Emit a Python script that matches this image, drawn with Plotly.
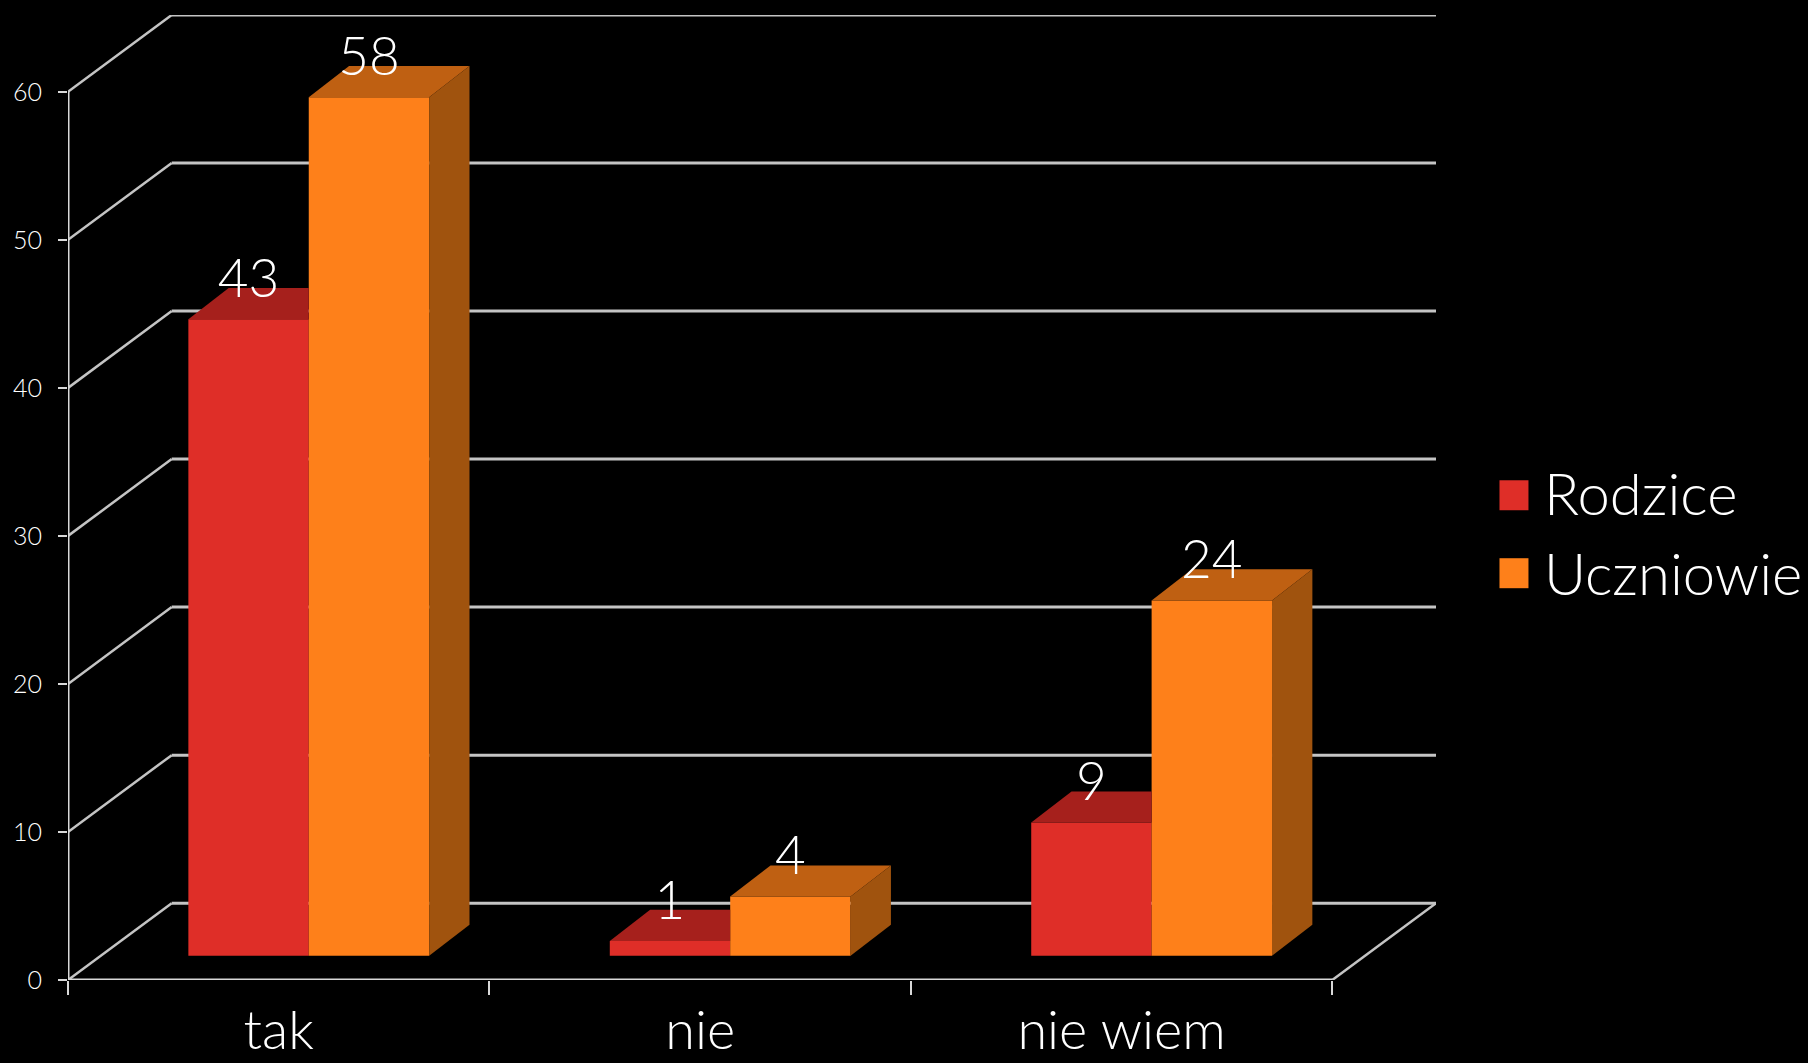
import plotly.graph_objects as go

categories = ["tak", "nie", "nie wiem"]
series_names = ["Rodzice", "Uczniowie"]
rodzice = [43, 1, 9]
uczniowie = [58, 4, 24]
y_ticks = [0, 10, 20, 30, 40, 50, 60]

RED, RED_TOP = "#DF2E28", "#A6201C"
ORANGE, ORANGE_TOP, ORANGE_SIDE = "#FE801A", "#BF6012", "#A0530E"
GRID = "#C4C4C4"
FONT = "Lato"
WEIGHT = 300

# pseudo-3D geometry in axis units
WALL_DX, WALL_DY = 0.2461, 5.19
BAR_SHIFT_X, BAR_BASE = 0.0713, 1.64
BAR_DX, BAR_DY = 0.0957, 2.1
BAR_W = 0.2857
N = len(categories)

fig = go.Figure()


def face(xs, ys, color):
    fig.add_trace(go.Scatter(x=xs, y=ys, mode="lines", fill="toself", fillcolor=color,
                             line=dict(width=0), hoverinfo="skip", showlegend=False))


left_x = [i + 0.5 + BAR_SHIFT_X - BAR_W for i in range(N)]
mid_x = [i + 0.5 + BAR_SHIFT_X for i in range(N)]
right_x = [i + 0.5 + BAR_SHIFT_X + BAR_W for i in range(N)]

# front faces: real bars
fig.add_trace(go.Bar(x=[m - BAR_W / 2 for m in mid_x], y=rodzice, base=BAR_BASE, width=BAR_W,
                     name=series_names[0], marker=dict(color=RED, line=dict(width=0)), showlegend=False))
fig.add_trace(go.Bar(x=[m + BAR_W / 2 for m in mid_x], y=uczniowie, base=BAR_BASE, width=BAR_W,
                     name=series_names[1], marker=dict(color=ORANGE, line=dict(width=0)), showlegend=False))

# top and side faces
for i in range(N):
    t = rodzice[i] + BAR_BASE
    face([left_x[i], left_x[i] + BAR_DX, mid_x[i], mid_x[i], left_x[i]],
         [t, t + BAR_DY, t + BAR_DY, t, t], RED_TOP)
    t = uczniowie[i] + BAR_BASE
    face([mid_x[i], mid_x[i] + BAR_DX, right_x[i] + BAR_DX, right_x[i], mid_x[i]],
         [t, t + BAR_DY, t + BAR_DY, t, t], ORANGE_TOP)
    face([right_x[i], right_x[i] + BAR_DX, right_x[i] + BAR_DX, right_x[i], right_x[i]],
         [t, t + BAR_DY, BAR_BASE + BAR_DY, BAR_BASE, t], ORANGE_SIDE)

# value labels
fig.add_trace(go.Scatter(
    x=[m - BAR_W / 2 for m in mid_x] + [m + BAR_W / 2 for m in mid_x],
    y=[v + BAR_BASE + 2.4 for v in rodzice + uczniowie],
    text=[str(v) for v in rodzice + uczniowie],
    mode="text", textposition="middle center", cliponaxis=False,
    textfont=dict(family=FONT, size=53, color="white", weight=WEIGHT),
    hoverinfo="skip", showlegend=False))

# walls drawn below the traces
shapes = []
for t in y_ticks:
    shapes.append(dict(type="line", xref="x", yref="y", layer="below", x0=0, y0=t, x1=WALL_DX, y1=t + WALL_DY,
                       line=dict(color=GRID, width=2.5)))
    shapes.append(dict(type="line", xref="x", yref="y", layer="below", x0=WALL_DX, y0=t + WALL_DY,
                       x1=N + WALL_DX, y1=t + WALL_DY, line=dict(color=GRID, width=3)))
shapes.append(dict(type="line", xref="x", yref="y", layer="below", x0=N, y0=0, x1=N + WALL_DX, y1=WALL_DY,
                   line=dict(color=GRID, width=2.5)))
shapes.append(dict(type="line", xref="x", yref="y", layer="below", x0=0, y0=0, x1=N, y1=0,
                   line=dict(color="#D8D8D8", width=3)))
shapes.append(dict(type="line", xref="x", yref="y", layer="below", x0=0, y0=0, x1=0, y1=y_ticks[-1],
                   line=dict(color="#D8D8D8", width=3)))

W, H = 1808, 1063
# legend swatches and labels
annotations = []
for name, color, cy, ty in zip(series_names, [RED, ORANGE], [495, 573], [492, 572]):
    shapes.append(dict(type="rect", xref="paper", yref="paper",
                       x0=(1500 - 68) / (1436.5 - 68), x1=(1529 - 68) / (1436.5 - 68),
                       y0=(980 - cy - 15) / (980 - 14.5), y1=(980 - cy + 15) / (980 - 14.5),
                       fillcolor=color, line=dict(width=0)))
    annotations.append(dict(xref="paper", yref="paper", x=(1543 - 68) / (1436.5 - 68),
                            y=(980 - ty) / (980 - 14.5), text=name, showarrow=False,
                            xanchor="left", yanchor="middle",
                            font=dict(family=FONT, size=58, color="white", weight=WEIGHT)))

fig.update_layout(
    width=W, height=H, autosize=False,
    margin=dict(l=68, r=W - 1436.5, t=14.5, b=H - 980, pad=0, autoexpand=False),
    paper_bgcolor="black", plot_bgcolor="black",
    barmode="overlay", showlegend=False,
    shapes=shapes, annotations=annotations,
    xaxis=dict(range=[0, N + WALL_DX], automargin=False, showgrid=False, zeroline=False, showline=False,
               tickmode="array", tickvals=[i + 0.5 for i in range(N)], ticktext=categories,
               ticks="", ticklabelstandoff=14,
               tickfont=dict(family=FONT, size=54, color="white", weight=WEIGHT),
               minor=dict(tickmode="array", tickvals=list(range(N + 1)), ticks="outside",
                          ticklen=14, tickwidth=2, tickcolor="#D8D8D8", showgrid=False)),
    yaxis=dict(range=[0, y_ticks[-1] + WALL_DY], automargin=False, showgrid=False, zeroline=False, showline=False,
               tickmode="array", tickvals=y_ticks, ticks="outside", ticklen=9, tickwidth=2,
               tickcolor="#D8D8D8", ticklabelstandoff=11,
               tickfont=dict(family=FONT, size=25, color="white", weight=WEIGHT)),
)

fig.write_html("out.html", config={"displayModeBar": False},
               post_script="document.body.style.margin='0';document.documentElement.style.overflow='hidden';")
